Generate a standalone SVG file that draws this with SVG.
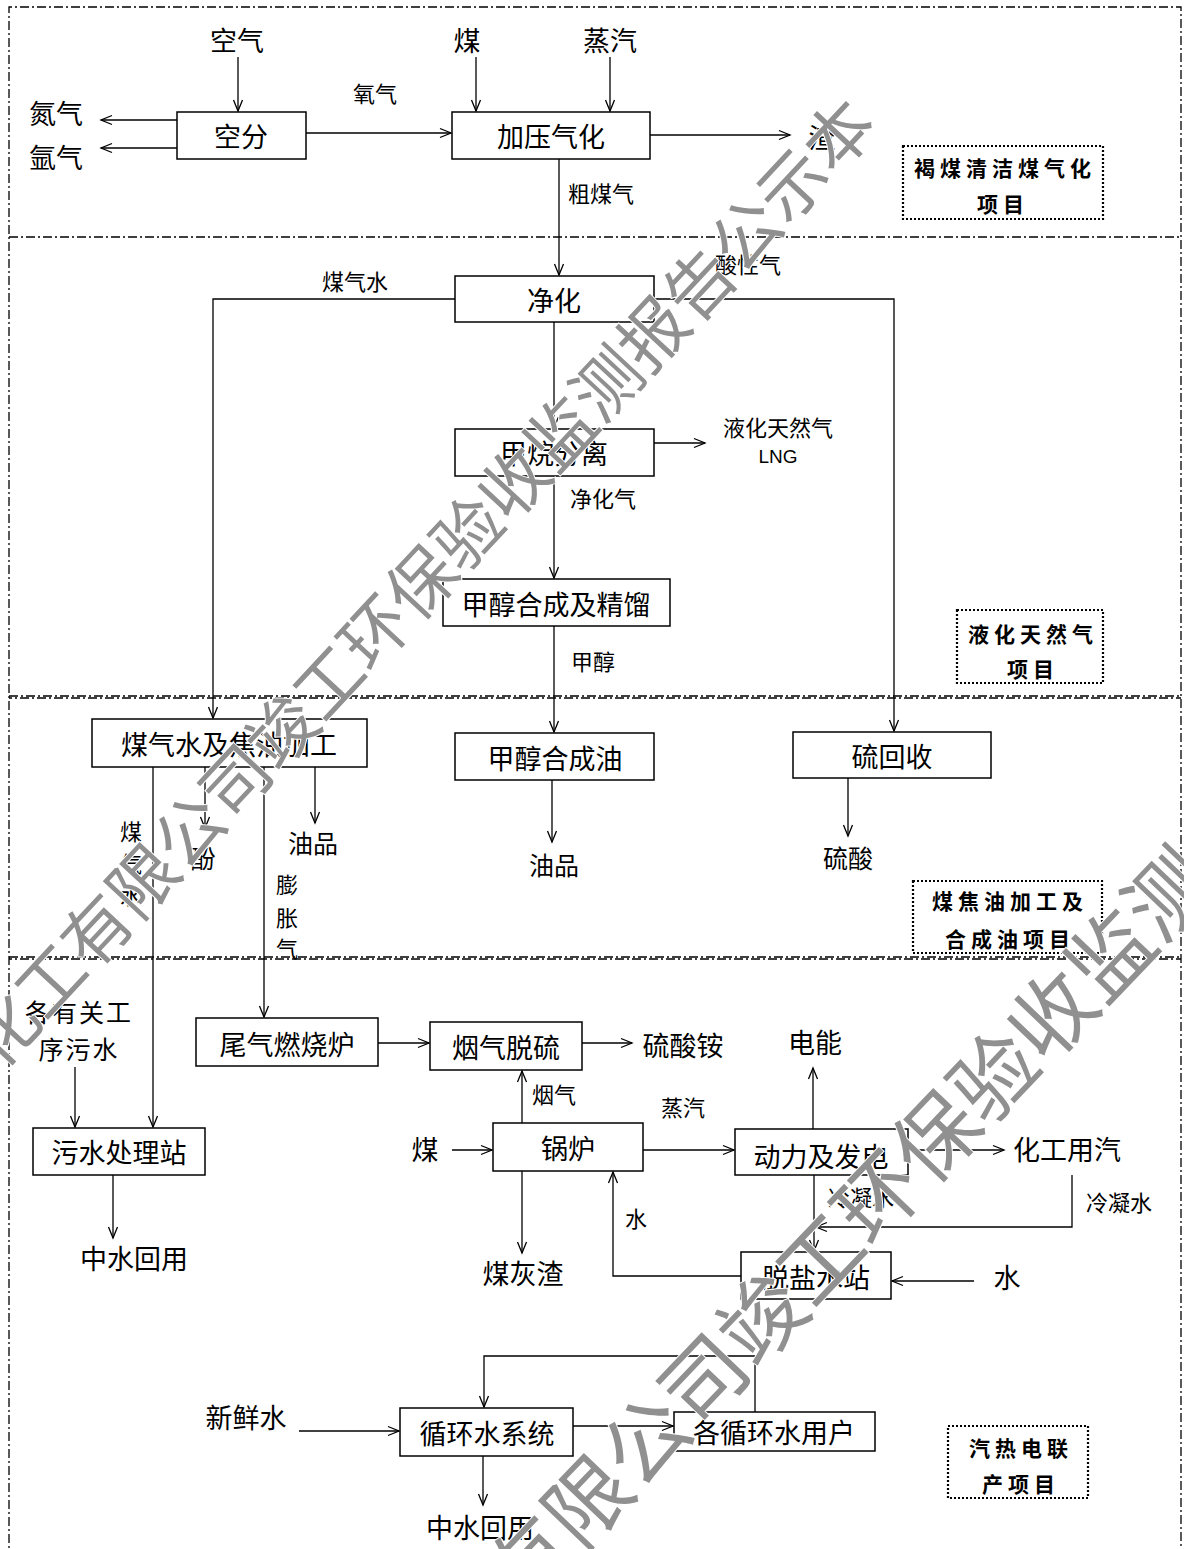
<svg xmlns="http://www.w3.org/2000/svg" width="1184" height="1549" viewBox="0 0 1184 1549">
<style>
.bg{fill:#fff}
.frame{fill:none;stroke:#000;stroke-width:1.3;stroke-dasharray:9 3 2 3}
.box{fill:#fff;stroke:#000;stroke-width:1.5}
.c{fill:none;stroke:#000;stroke-width:1.3;marker-end:url(#a)}
.t{font-family:"Noto Sans CJK SC","Noto Sans CJK TC",sans-serif;font-size:27px;text-anchor:middle;dominant-baseline:central;fill:#000}
.s{font-size:22px}
.m{font-size:25px}
.lng{font-family:"Liberation Sans","Noto Sans",sans-serif;font-size:19px}
.proj{fill:#fff;stroke:#000;stroke-width:2.2;stroke-dasharray:2 2}
.pt{font-weight:bold;font-size:21px;letter-spacing:5px}
.wm{font-family:"Noto Sans CJK SC",sans-serif;fill:#909090;stroke:#fff;stroke-width:2;paint-order:stroke}
</style>
<defs>
<marker id="a" markerWidth="14" markerHeight="12" refX="12" refY="6" orient="auto" markerUnits="userSpaceOnUse">
<path d="M1,1.5 L12,6 L1,10.5" fill="none" stroke="#000" stroke-width="1.3"/>
</marker>
</defs>
<rect class="bg" x="0" y="0" width="1184" height="1549"/>

<g id="frame">
<path class="frame" d="M9,1560 V7 H1181 V1560"/>
<path class="frame" d="M9,237 H1181"/>
<path class="frame" d="M9,696 H1181"/>
<path class="frame" d="M9,698 H1181" stroke-dashoffset="6"/>
<path class="frame" d="M9,957 H1181"/>
<path class="frame" d="M9,959 H1181" stroke-dashoffset="6"/>
</g>

<g id="connectors">
<path class="c" d="M238,57 V111"/>
<path class="c" d="M177,120 H101"/>
<path class="c" d="M177,148 H101"/>
<path class="c" d="M306,133 H451"/>
<path class="c" d="M476,57 V111"/>
<path class="c" d="M610,57 V111"/>
<path class="c" d="M650,135 H790"/>
<path class="c" d="M559,159 V275"/>
<path class="c" d="M455,299 H213 V718"/>
<path class="c" d="M654,299 H894 V731"/>
<path class="c" d="M554,322 V428"/>
<path class="c" d="M654,443 H705"/>
<path class="c" d="M554,476 V578"/>
<path class="c" d="M554,626 V732"/>
<path class="c" d="M153,767 V1127"/>
<path class="c" d="M205,767 V828"/>
<path class="c" d="M264,767 V1017"/>
<path class="c" d="M315,767 V823"/>
<path class="c" d="M552,780 V842"/>
<path class="c" d="M848,778 V836"/>
<path class="c" d="M75,1067 V1127"/>
<path class="c" d="M113,1175 V1238"/>
<path class="c" d="M378,1043 H429"/>
<path class="c" d="M582,1043 H632"/>
<path class="c" d="M522,1123 V1071"/>
<path class="c" d="M452,1150 H492"/>
<path class="c" d="M643,1150 H734"/>
<path class="c" d="M813,1129 V1068"/>
<path class="c" d="M908,1150 H1004"/>
<path class="c" d="M1072,1175 V1227 H816"/>
<path class="c" d="M814,1175 V1251"/>
<path class="c" d="M741,1276 H613 V1172"/>
<path class="c" d="M974,1281 H892"/>
<path class="c" d="M522,1171 V1253"/>
<path class="c" d="M299,1431 H399"/>
<path class="c" d="M573,1426 H673"/>
<path class="c" d="M755,1412 V1356 H484 V1407"/>
<path class="c" d="M483,1456 V1505"/>
</g>

<g id="n-kongfen"><rect class="box" x="177" y="112" width="129" height="47"/><text class="t" x="241" y="135">空分</text></g>
<g id="n-jiaya"><rect class="box" x="452" y="112" width="198" height="47"/><text class="t" x="551" y="135">加压气化</text></g>
<g id="n-jinghua"><rect class="box" x="455" y="276" width="199" height="46"/><text class="t" x="554" y="299">净化</text></g>
<g id="n-jiawan"><rect class="box" x="455" y="429" width="199" height="47"/><text class="t" x="554" y="452">甲烷分离</text></g>
<g id="n-jiachun"><rect class="box" x="443" y="579" width="227" height="47"/><text class="t" x="556" y="603">甲醇合成及精馏</text></g>
<g id="n-meiqishui"><rect class="box" x="92" y="719" width="275" height="48"/><text class="t" x="229" y="743">煤气水及焦油加工</text></g>
<g id="n-hechengyou"><rect class="box" x="455" y="733" width="199" height="47"/><text class="t" x="555" y="757">甲醇合成油</text></g>
<g id="n-liuhuishou"><rect class="box" x="793" y="732" width="198" height="46"/><text class="t" x="892" y="755">硫回收</text></g>
<g id="n-weiqi"><rect class="box" x="196" y="1018" width="182" height="48"/><text class="t" x="287" y="1043">尾气燃烧炉</text></g>
<g id="n-yanqi"><rect class="box" x="430" y="1022" width="152" height="48"/><text class="t" x="506" y="1046">烟气脱硫</text></g>
<g id="n-wushui"><rect class="box" x="33" y="1128" width="172" height="47"/><text class="t" x="119" y="1151">污水处理站</text></g>
<g id="n-guolu"><rect class="box" x="493" y="1123" width="150" height="48"/><text class="t" x="568" y="1147">锅炉</text></g>
<g id="n-dongli"><rect class="box" x="735" y="1129" width="173" height="46"/><text class="t" x="821" y="1155">动力及发电</text></g>
<g id="n-tuoyan"><rect class="box" x="741" y="1252" width="150" height="47"/><text class="t" x="816" y="1276">脱盐水站</text></g>
<g id="n-xunhuan"><rect class="box" x="400" y="1408" width="173" height="48"/><text class="t" x="487" y="1432">循环水系统</text></g>
<g id="n-yonghu"><rect class="box" x="674" y="1412" width="201" height="39"/><text class="t" x="774" y="1431">各循环水用户</text></g>

<g id="labels">
<text class="t" x="237" y="39">空气</text>
<text class="t" x="56" y="112">氮气</text>
<text class="t" x="56" y="156">氩气</text>
<text class="t s" x="375" y="92">氧气</text>
<text class="t" x="467" y="39">煤</text>
<text class="t" x="610" y="39">蒸汽</text>
<text class="t" x="822" y="136">渣</text>
<text class="t s" x="601" y="192">粗煤气</text>
<text class="t s" x="355" y="280">煤气水</text>
<text class="t s" x="748" y="263">酸性气</text>
<text class="t s" x="778" y="426">液化天然气</text>
<text class="t lng" x="778" y="456">LNG</text>
<text class="t s" x="603" y="497">净化气</text>
<text class="t s" x="593" y="660">甲醇</text>
<text class="t s" x="131" y="830">煤</text>
<text class="t s" x="131" y="862">气</text>
<text class="t s" x="131" y="894">水</text>
<text class="t m" x="203" y="857">酚</text>
<text class="t m" x="313" y="842">油品</text>
<text class="t s" x="287" y="883">膨</text>
<text class="t s" x="287" y="916">胀</text>
<text class="t s" x="287" y="947">气</text>
<text class="t m" x="554" y="864">油品</text>
<text class="t m" x="848" y="857">硫酸</text>
<text class="t" x="79" y="1011" style="font-size:25px;letter-spacing:2px">各有关工</text>
<text class="t" x="79" y="1048" style="font-size:25px;letter-spacing:2px">序污水</text>
<text class="t" x="683" y="1044">硫酸铵</text>
<text class="t" x="815" y="1041">电能</text>
<text class="t s" x="554" y="1093">烟气</text>
<text class="t s" x="683" y="1106">蒸汽</text>
<text class="t" x="425" y="1148">煤</text>
<text class="t" x="1067" y="1148">化工用汽</text>
<text class="t s" x="861" y="1196">冷凝水</text>
<text class="t s" x="1119" y="1201">冷凝水</text>
<text class="t s" x="636" y="1217">水</text>
<text class="t" x="134" y="1257">中水回用</text>
<text class="t" x="523" y="1272">煤灰渣</text>
<text class="t" x="1007" y="1276">水</text>
<text class="t" x="246" y="1416">新鲜水</text>
<text class="t" x="480" y="1526">中水回用</text>
</g>

<g id="p-1"><rect class="proj" x="903" y="146" width="200" height="73"/><text class="t pt" x="1005" y="167">褐煤清洁煤气化</text><text class="t pt" x="1003" y="203">项目</text></g>
<g id="p-2"><rect class="proj" x="957" y="610" width="146" height="73"/><text class="t pt" x="1033" y="633">液化天然气</text><text class="t pt" x="1033" y="668">项目</text></g>
<g id="p-3"><rect class="proj" x="913" y="881" width="189" height="72"/><text class="t pt" x="1010" y="900">煤焦油加工及</text><text class="t pt" x="1010" y="938">合成油项目</text></g>
<g id="p-4"><rect class="proj" x="948" y="1426" width="140" height="72"/><text class="t pt" x="1021" y="1447">汽热电联</text><text class="t pt" x="1021" y="1483">产项目</text></g>

<g id="watermark">
<text class="wm" font-size="68" transform="translate(-1,1072) rotate(-47)">化工有限公司竣工环保验收监测报告公示本</text>
<text class="wm" font-size="84" transform="translate(407,1735) rotate(-46.3)">化工有限公司竣工环保验收监测</text>
</g>
</svg>
